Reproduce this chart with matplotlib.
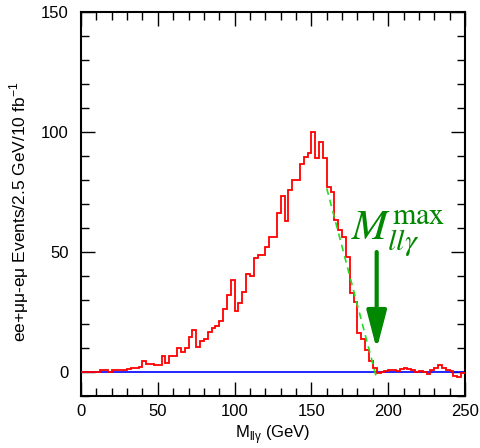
import numpy as np
import matplotlib
matplotlib.use("Agg")
import matplotlib.pyplot as plt
from matplotlib.ticker import MultipleLocator

# Histogram: 2.5 GeV bins from 0 to 250
bin_edges = np.arange(0, 252.5, 2.5)
counts = [
    0, 0, 0, 0.2, 0, 1.0, 0.7, 0, 0.7, 0.8,
    1.0, 1.0, 1.3, 1.5, 1.5, 2.2, 4.7, 3.2, 3.2, 2.8,
    2.8, 6.5, 3.8, 6.5, 6.5, 9.9, 8.2, 9.9, 14.5, 17.4,
    10.3, 12.9, 13.6, 16.5, 18.2, 19.2, 21.4, 26.2, 32.0, 38.3,
    25.4, 28.6, 33.5, 40.8, 40.1, 47.4, 48.8, 48.8, 52.2, 56.4,
    56.4, 66.1, 73.3, 62.9, 75.8, 80.0, 80.0, 86.5, 89.5, 91.4,
    100.0, 89.3, 95.7, 89.0, 77.2, 74.9, 63.3, 59.2, 56.1, 48.0,
    33.0, 29.3, 16.1, 13.8, 9.2, 4.6, 1.5, -0.5, 0, 0.5,
    1.0, 1.0, 0.3, 1.3, 1.7, 1.3, 0.7, 0, 0.3, 0,
    -0.7, 0.7, 1.7, 2.8, 1.5, 1.0, 0.3, -1.7, -2.0, -0.5,
]

# Linear edge fit (green dashed)
fit_x = [160.0, 192.0]
fit_y = [76.5, -1.5]

# Arrow marking the endpoint
arrow_x = 192.5
arrow_y_start = 50.0
arrow_y_end = 9.5

fig = plt.figure(figsize=(4.8, 4.48), dpi=100)
ax = fig.add_axes([81/480, 1-396/448, (465-81)/480, (396-12)/448])

ax.axhline(0, color="#0000ff", lw=1.2, zorder=2)
ax.stairs(counts, bin_edges, color="#ff0000", lw=1.3, zorder=3)
ax.plot(fit_x, fit_y, color="#22dd22", lw=1.2, ls=(0, (4, 3)), zorder=4)

ax.annotate("", xy=(arrow_x, arrow_y_end), xytext=(arrow_x, arrow_y_start),
            arrowprops=dict(arrowstyle="-|>,head_length=2.3,head_width=0.6",
                            color="#008800", lw=3, shrinkA=0, shrinkB=0),
            zorder=5)

ax.text(176, 55, r"$M_{ll\gamma}^{\mathrm{max}}$", color="#008800",
        fontsize=31, va="baseline", ha="left",
        math_fontfamily="stix")

ax.set_xlim(0, 250)
ax.set_ylim(-10, 150)
ax.xaxis.set_major_locator(MultipleLocator(50))
ax.xaxis.set_minor_locator(MultipleLocator(10))
ax.yaxis.set_major_locator(MultipleLocator(50))
ax.yaxis.set_minor_locator(MultipleLocator(10))
ax.tick_params(which="both", direction="in", top=True, right=True,
               labelsize=12, width=1.0)
ax.tick_params(which="major", length=10)
ax.tick_params(which="minor", length=5.5)
for s in ax.spines.values():
    s.set_linewidth(1.5)
for lbl in ax.get_xticklabels() + ax.get_yticklabels():
    lbl.set_family("Liberation Sans")
ax.tick_params(axis="x", pad=6)
ax.tick_params(axis="y", pad=9)

ax.set_xlabel(r"M$_{\mathregular{ll\gamma}}$ (GeV)", family="Liberation Sans", fontsize=12, labelpad=3)
ax.set_ylabel("ee+μμ-eμ Events/2.5 GeV/10 fb$^{\\mathregular{-1}}$",
              family="Liberation Sans", fontsize=12.5)
ax.yaxis.set_label_coords(-0.13, 0.48)

fig.savefig("out.png", dpi=100)
